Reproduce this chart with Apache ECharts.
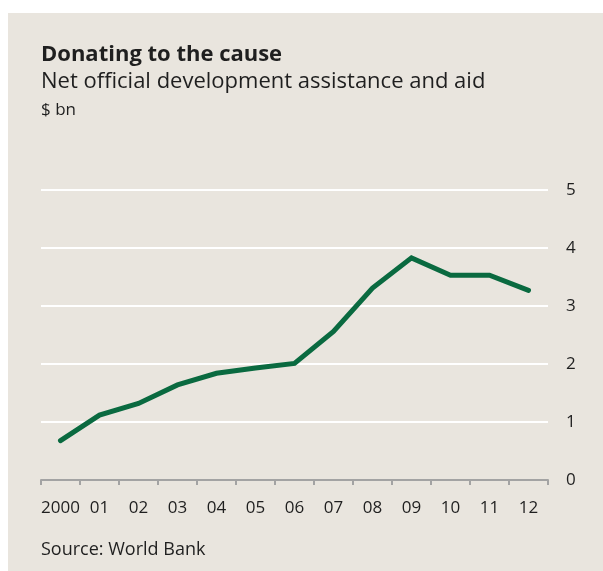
<!DOCTYPE html>
<html>
<head>
<meta charset="utf-8">
<script src="https://cdn.jsdelivr.net/npm/echarts@6/dist/echarts.min.js"></script>
<style>
    html, body { margin: 0; padding: 0; background: #ffffff; }
    #main { width: 603px; height: 571px; }
</style>
</head>
<body>
<div id="main"></div>
<script>
// 年份与数值（$ bn）
var years = ['2000', '01', '02', '03', '04', '05', '06', '07', '08', '09', '10', '11', '12'];
var aid = [0.68, 1.12, 1.32, 1.64, 1.84, 1.93, 2.01, 2.56, 3.31, 3.83, 3.53, 3.53, 3.27];
var yTicks = [0, 1, 2, 3, 4, 5];

var font = '"Open Sans", "Noto Sans", sans-serif';
var textColor = '#1f1f1f';

var chart = echarts.init(document.getElementById('main'));

var option = {
    backgroundColor: '#ffffff',
    animation: false,
    graphic: [{
        type: 'rect',
        z: -10,
        shape: { x: 8, y: 13, width: 595, height: 558 },
        style: { fill: '#e9e5de' }
    }],
    title: [{
        text: 'Donating to the cause',
        left: 36,
        top: 39,
        textStyle: { fontFamily: font, fontSize: 22, fontWeight: 'bold', color: textColor }
    }, {
        text: 'Net official development assistance and aid',
        left: 36,
        top: 66,
        textStyle: { fontFamily: font, fontSize: 22, fontWeight: 'normal', color: textColor }
    }, {
        text: '$ bn',
        left: 36,
        top: 97,
        textStyle: { fontFamily: font, fontSize: 17, fontWeight: 'normal', color: textColor }
    }, {
        text: 'Source: World Bank',
        left: 36,
        top: 536,
        textStyle: { fontFamily: font, fontSize: 18, fontWeight: 'normal', color: textColor }
    }],
    grid: {
        left: 41,
        right: 55,
        top: 190,
        bottom: 91
    },
    xAxis: {
        type: 'category',
        data: years,
        boundaryGap: true,
        axisLine: { lineStyle: { color: '#a3a3a3', width: 2 } },
        axisTick: { show: true, interval: 0, length: 5, lineStyle: { color: '#a3a3a3', width: 2 } },
        axisLabel: { interval: 0, fontFamily: font, fontSize: 17, color: textColor, margin: 20 },
        splitLine: { show: false }
    },
    yAxis: {
        type: 'value',
        position: 'right',
        min: yTicks[0],
        max: yTicks[yTicks.length - 1],
        interval: 1,
        axisLine: { show: false },
        axisTick: { show: false },
        axisLabel: { fontFamily: font, fontSize: 17, color: textColor, margin: 18, align: 'left' },
        splitLine: { lineStyle: { color: '#ffffff', width: 2 } }
    },
    series: [{
        type: 'line',
        data: aid,
        symbol: 'none',
        lineStyle: { color: '#0a6a40', width: 5, cap: 'round', join: 'miter' }
    }]
};

chart.setOption(option);
</script>
</body>
</html>
